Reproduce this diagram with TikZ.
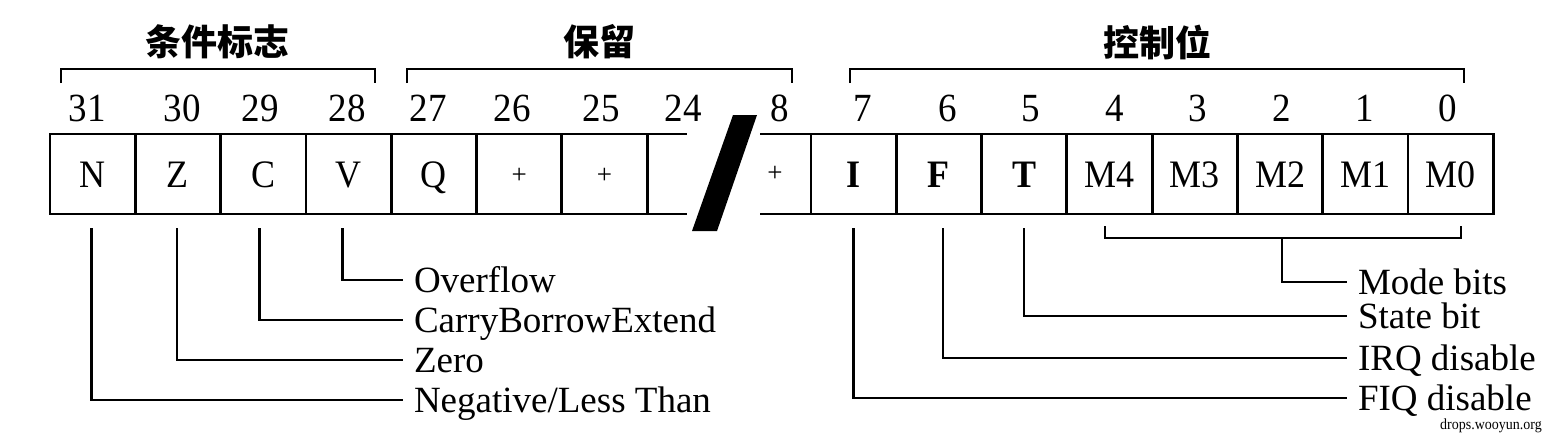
\documentclass[tikz,border=0pt]{standalone}
\usepackage{fontspec}
\usepackage{graphicx}
\setmainfont{Liberation Serif}
\newfontfamily\cjk{Noto Sans CJK SC}
\newcommand{\vstr}[1]{\scalebox{1}[1.08]{#1}}
\begin{document}
\begin{tikzpicture}[x=1pt,y=-1pt,
  cell/.style={draw, line width=2.8pt, minimum width=85.3pt, minimum height=80pt, inner sep=0pt, outer sep=0pt, text height=26pt, text depth=0pt, font=\fontsize{36}{40}\selectfont},
  plus/.style={inner sep=0pt, font=\fontsize{27}{30}\selectfont},
  num/.style={inner sep=0pt, text height=26pt, text depth=0pt, font=\fontsize{37}{40}\selectfont},
  title/.style={inner sep=0pt, font=\cjk\bfseries\fontsize{36}{40}\selectfont},
  lbl/.style={inner sep=0pt, outer sep=0pt, anchor=west, text height=24pt, text depth=0pt, font=\fontsize{37}{40}\selectfont},
  brk/.style={line width=2.8pt},
  lead/.style={line width=2.5pt},
  wm/.style={inner sep=0pt, font=\fontsize{14}{16}\selectfont}
]
\useasboundingbox (0,0) rectangle (1544,432);

% titles
\node[title] (tCond) at (217,42) {条件标志};
\node[title] (tRes) at (599,42) {保留};
\node[title] (tCtl) at (1157,42) {控制位};

% top brackets
\coordinate (b1l) at (61,83); \coordinate (b1r) at (375,83);
\coordinate (b2l) at (407,83); \coordinate (b2r) at (792,83);
\coordinate (b3l) at (850,83); \coordinate (b3r) at (1464,83);
\draw[brk] (b1l) -- ++(0,-14) -| (b1r);
\draw[brk] (b2l) -- ++(0,-14) -| (b2r);
\draw[brk] (b3l) -- ++(0,-14) -| (b3r);

% bit numbers
\node[num] (n31) at (87,108) {\vstr{31}};
\node[num] (n30) at (182,108) {\vstr{30}};
\node[num] (n29) at (260,108) {\vstr{29}};
\node[num] (n28) at (347,108) {\vstr{28}};
\node[num] (n27) at (428,108) {\vstr{27}};
\node[num] (n26) at (512,108) {\vstr{26}};
\node[num] (n25) at (601,108) {\vstr{25}};
\node[num] (n24) at (683,108) {\vstr{24}};
\node[num] (n8) at (780,108) {\vstr{8}};
\node[num] (n7) at (863,108) {\vstr{7}};
\node[num] (n6) at (948,108) {\vstr{6}};
\node[num] (n5) at (1031,108) {\vstr{5}};
\node[num] (n4) at (1115,108) {\vstr{4}};
\node[num] (n3) at (1198,108) {\vstr{3}};
\node[num] (n2) at (1282,108) {\vstr{2}};
\node[num] (n1) at (1365,108) {\vstr{1}};
\node[num] (n0) at (1448,108) {\vstr{0}};

% left register cells
\node[cell] (cN) at (92.65,174) {\vstr{N}};
\node[cell] (cZ) at (177.95,174) {\vstr{Z}};
\node[cell] (cC) at (263.25,174) {\vstr{C}};
\node[cell] (cV) at (348.55,174) {\vstr{V}};
\node[cell] (cQ) at (433.85,174) {\vstr{Q}};
\node[cell,text height=18pt,font=\fontsize{27}{30}\selectfont] (cP26) at (519.15,174) {+};
\node[cell,text height=18pt,font=\fontsize{27}{30}\selectfont] (cP25) at (604.45,174) {+};
\draw[line width=2.8pt] (cP25.north east) -- ++(40,0);
\draw[line width=2.8pt] (cP25.south east) -- ++(40,0);

% break mark
\fill (692,231) -- (717,231) -- (757,115) -- (733,115) -- cycle;

% right register cells
\node[cell,font=\bfseries\fontsize{36}{40}\selectfont] (cI) at (853.55,174) {\vstr{I}};
\node[cell,font=\bfseries\fontsize{36}{40}\selectfont] (cF) at (938.85,174) {\vstr{F}};
\node[cell,font=\bfseries\fontsize{36}{40}\selectfont] (cT) at (1024.15,174) {\vstr{T}};
\node[cell] (cM4) at (1109.45,174) {\vstr{M4}};
\node[cell] (cM3) at (1194.75,174) {\vstr{M3}};
\node[cell] (cM2) at (1280.05,174) {\vstr{M2}};
\node[cell] (cM1) at (1365.35,174) {\vstr{M1}};
\node[cell] (cM0) at (1450.65,174) {\vstr{M0}};
\draw[line width=2.8pt] (cI.north west) -- ++(-51,0);
\draw[line width=2.8pt] (cI.south west) -- ++(-51,0);
\node[plus] (cP8) at (775,174) {+};

% left labels
\node[lbl] (lV) at (414,280) {Overflow};
\node[lbl] (lC) at (414,320) {CarryBorrowExtend};
\node[lbl] (lZ) at (414,360) {Zero};
\node[lbl] (lN) at (414,400) {Negative/Less Than};

\draw[lead] ([xshift=-1pt,yshift=-14pt]cN.south) |- ([xshift=-11pt]lN.west);
\draw[lead] ([xshift=-1pt,yshift=-14pt]cZ.south) |- ([xshift=-11pt]lZ.west);
\draw[lead] ([xshift=-4pt,yshift=-14pt]cC.south) |- ([xshift=-11pt]lC.west);
\draw[lead] ([xshift=-6pt,yshift=-14pt]cV.south) |- ([xshift=-11pt]lV.west);

% right labels
\node[lbl] (lM) at (1358,282) {Mode bits};
\node[lbl] (lT) at (1358,316) {State bit};
\node[lbl] (lF) at (1358,358) {IRQ disable};
\node[lbl] (lI) at (1358,398) {FIQ disable};

\coordinate (mbL) at (1105,226);
\coordinate (mbR) at (1461,226);
\coordinate (mbC) at (1282,238);
\draw[lead] (mbL) |- (mbR |- mbC) -- (mbR);
\draw[lead] (mbC) |- ([xshift=-11pt]lM.west);
\draw[lead] ([yshift=-14pt]cT.south) |- ([xshift=-11pt]lT.west);
\draw[lead] ([xshift=4pt,yshift=-14pt]cF.south) |- ([xshift=-11pt]lF.west);
\draw[lead] ([yshift=-14pt]cI.south) |- ([xshift=-11pt]lI.west);

% watermark
\node[wm] (wm) at (1491,425.5) {\scalebox{1}[1.1]{drops.wooyun.org}};
\end{tikzpicture}
\end{document}
